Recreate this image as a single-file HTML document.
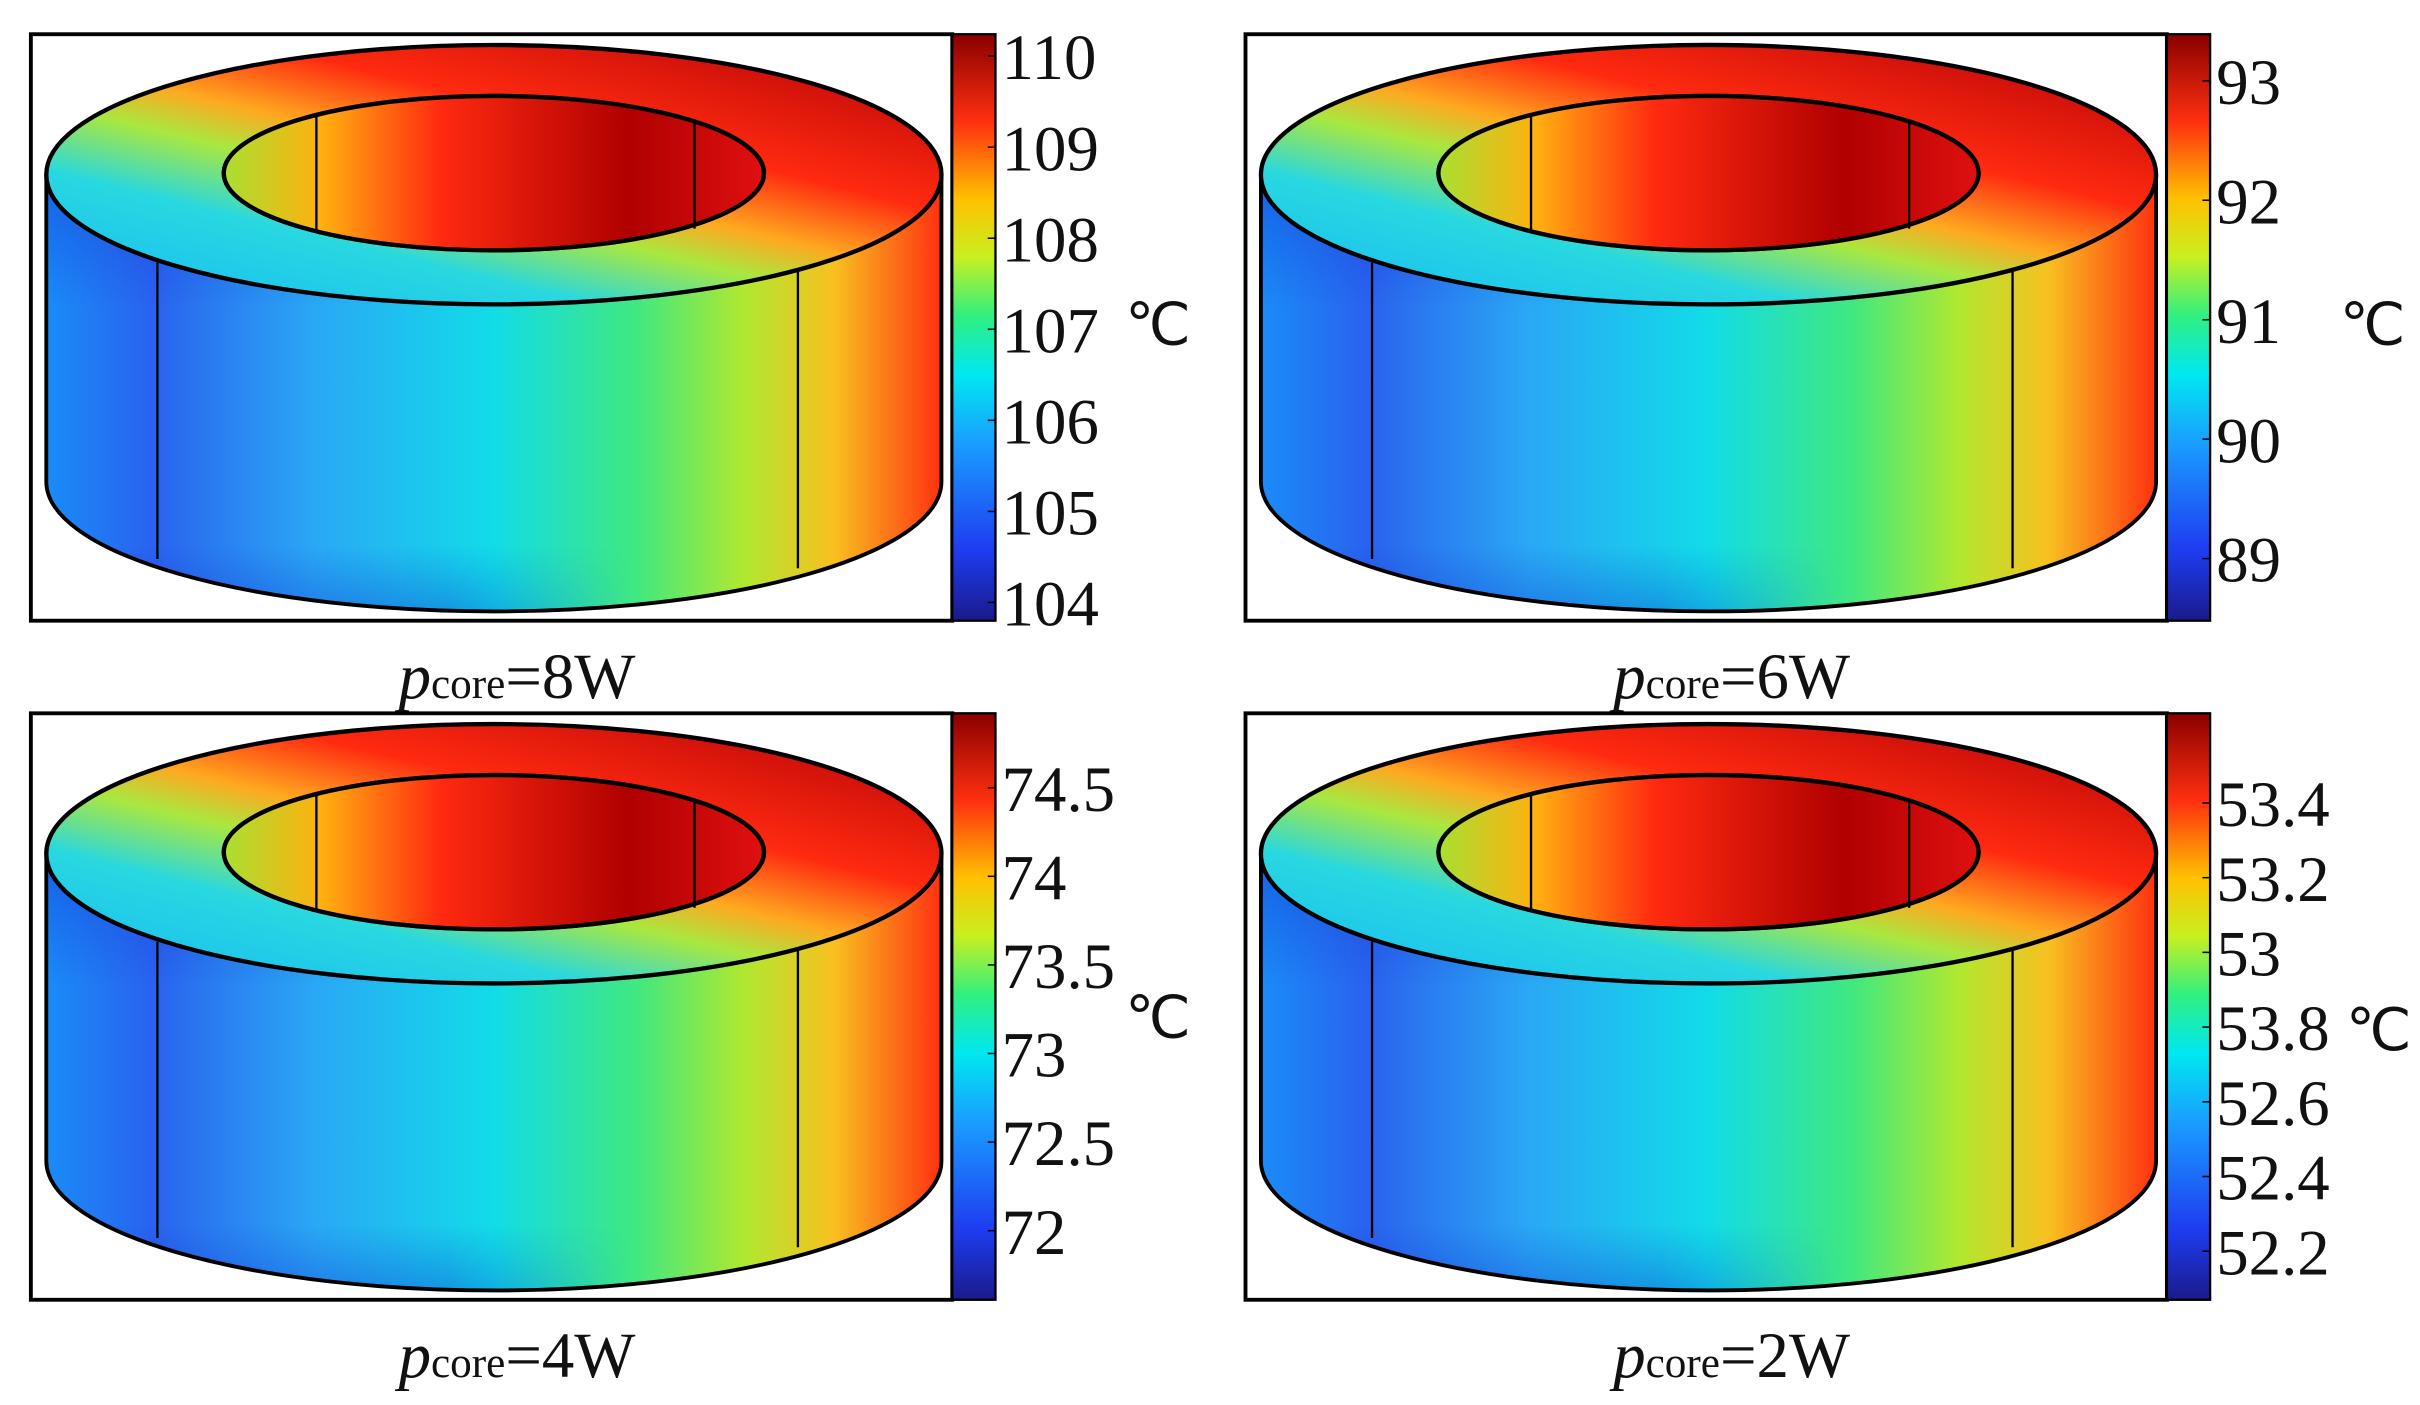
<!DOCTYPE html>
<html><head><meta charset="utf-8"><style>
html,body{margin:0;padding:0;background:#fff;}
svg{display:block;}
text{font-family:"Liberation Serif",serif;fill:#111;}
</style></head><body>
<svg id="fig" width="2420" height="1405" viewBox="0 0 1568 910" xmlns="http://www.w3.org/2000/svg">
<defs>
<linearGradient id="jet" x1="0" y1="1" x2="0" y2="0">
<stop offset="0" stop-color="#1a1a8c"/><stop offset="0.12" stop-color="#1e3cf0"/><stop offset="0.3" stop-color="#1a9cff"/><stop offset="0.42" stop-color="#00e8f0"/><stop offset="0.52" stop-color="#30f080"/><stop offset="0.62" stop-color="#c8f020"/><stop offset="0.72" stop-color="#ffc000"/><stop offset="0.85" stop-color="#ff3010"/><stop offset="1" stop-color="#8a0000"/>
</linearGradient>
<linearGradient id="side" x1="0" y1="0" x2="1" y2="0">
<stop offset="0" stop-color="#1a8cf8"/><stop offset="0.12" stop-color="#2a62ee"/><stop offset="0.3" stop-color="#2aa8f5"/><stop offset="0.5" stop-color="#12dce8"/><stop offset="0.66" stop-color="#40e880"/><stop offset="0.78" stop-color="#b0e830"/><stop offset="0.88" stop-color="#f8c020"/><stop offset="1" stop-color="#ff3010"/>
</linearGradient>
<linearGradient id="shadeMask" x1="0" y1="0" x2="1" y2="0">
<stop offset="0" stop-color="#fff"/><stop offset="0.45" stop-color="#fff"/><stop offset="0.65" stop-color="#000"/><stop offset="1" stop-color="#000"/>
</linearGradient>
<mask id="leftMask" maskContentUnits="objectBoundingBox"><rect x="0" y="0" width="1" height="1" fill="url(#shadeMask)"/></mask>
<linearGradient id="sideShade" x1="0" y1="0" x2="0" y2="1">
<stop offset="0" stop-color="#1030d0" stop-opacity="0.45"/><stop offset="0.3" stop-color="#1030d0" stop-opacity="0"/><stop offset="0.85" stop-color="#1030d0" stop-opacity="0"/><stop offset="1" stop-color="#1030d0" stop-opacity="0.35"/>
</linearGradient>
<linearGradient id="top" x1="0" y1="1" x2="0.85" y2="0">
<stop offset="0" stop-color="#18b8f5"/><stop offset="0.3" stop-color="#28d8e0"/><stop offset="0.45" stop-color="#a8e840"/><stop offset="0.55" stop-color="#ffa820"/><stop offset="0.7" stop-color="#ff2a10"/><stop offset="1" stop-color="#c00808"/>
</linearGradient>
<linearGradient id="hole" x1="0" y1="0" x2="1" y2="0">
<stop offset="0" stop-color="#a8e030"/><stop offset="0.18" stop-color="#ffb010"/><stop offset="0.4" stop-color="#ff2a10"/><stop offset="0.75" stop-color="#b00000"/><stop offset="1" stop-color="#e01010"/>
</linearGradient>
</defs>
</svg>
<script>
const panelTitles = ["8W","6W","4W","2W"];
const tickValues = [[104,105,106,107,108,109,110],[89,90,91,92,93],[72,72.5,73,73.5,74,74.5],[52.2,52.4,52.6,52.8,53.0,53.2,53.4]];
const tickLabels = [["104","105","106","107","108","109","110"],["89","90","91","92","93"],["72","72.5","73","73.5","74","74.5"],["52.2","52.4","52.6","53.8","53","53.2","53.4"]];
const scaleMin = [103.8,88.48,71.61,52.07];
const scaleMax = [110.24,93.39,74.92,53.64];
const unitTick = [3,2,3,3];

const svg = document.getElementById('fig');
const NS = "http://www.w3.org/2000/svg";
function mk(tag, attrs, parent){const e=document.createElementNS(NS,tag);for(const k in attrs)e.setAttribute(k,attrs[k]);(parent||svg).appendChild(e);return e;}
const origins = [[20,22],[807,22],[20,462],[807,462]];
const BW=597, BH=380, CBW=28;
for(let i=0;i<4;i++){
  const [x0,y0]=origins[i];
  const g=mk('g',{});
  
  
  const box=mk('rect',{x:x0,y:y0,width:BW,height:BH,fill:'#fff',stroke:'#000','stroke-width':2.5},g);
  
  
  const cx=x0+300, cy=y0+91, rx=290, ry=84, cy2=y0+290;
  const L=cx-rx, R=cx+rx;
  const sidePath=`M${L},${cy} A${rx},${ry} 0 0 0 ${R},${cy} L${R},${cy2} A${rx},${ry} 0 0 1 ${L},${cy2} Z`;
  const side=mk('path',{d:sidePath,fill:'url(#side)'},g);
  
  
  const shade=mk('path',{d:sidePath,fill:'url(#sideShade)',mask:'url(#leftMask)'},g);
  
  
  const outline=mk('path',{d:sidePath,fill:'none',stroke:'#000','stroke-width':2.5},g);
  
  
  const irx=175, iry=50, icy=cy-1;
  const ring=mk('path',{d:`M${L},${cy} A${rx},${ry} 0 1 0 ${R},${cy} A${rx},${ry} 0 1 0 ${L},${cy} Z M${cx-irx},${icy} A${irx},${iry} 0 1 0 ${cx+irx},${icy} A${irx},${iry} 0 1 0 ${cx-irx},${icy} Z`,fill:'url(#top)','fill-rule':'evenodd',stroke:'#000','stroke-width':2.8},g);
  
  
  const hole=mk('ellipse',{cx:cx,cy:icy,rx:irx,ry:iry,fill:'url(#hole)',stroke:'#000','stroke-width':2.8},g);
  
  
  [[cx-115,y0+51,y0+128],[cx+130,y0+55,y0+126],[x0+82,y0+148,y0+340],[x0+497,y0+152,y0+346]].forEach(l=>{
    const ln=mk('line',{x1:l[0],y1:l[1],x2:l[0],y2:l[2],stroke:'#000','stroke-width':1.5},g);
    
    
  });
  const cbx=x0+BW;
  const cb=mk('rect',{x:cbx,y:y0,width:CBW,height:BH,fill:'url(#jet)',stroke:'#000','stroke-width':1.5},g);
  
  
  const yv=v=>y0+BH-(v-scaleMin[i])/(scaleMax[i]-scaleMin[i])*BH;
  tickValues[i].forEach((v,j)=>{
    const y=yv(v);
    const tk=mk('line',{x1:cbx+CBW-5,y1:y,x2:cbx+CBW,y2:y,stroke:'#000','stroke-width':1},g);
    
    
    const t=mk('text',{x:cbx+CBW+4,y:y+15,'font-size':42},g);
    t.textContent=tickLabels[i][j];
    
    
    if(i===3 && j===unitTick[i]){
      const u=mk('text',{x:cbx+CBW+88,y:y+15,'font-size':38},g);
      u.textContent='℃';
      
      
    }
  });
  if(i!==3){
    const u=mk('text',{x:cbx+CBW+84,y:(i===2?y0+195:y0+186)+15,'font-size':38},g);
    u.textContent='℃';
    
    
  }
  const cap=mk('text',{x:x0+315,y:y0+BH+50,'font-size':42,'text-anchor':'middle'},g);
  
  
  const p=mk('tspan',{'font-style':'italic'},cap); p.textContent='p';
  const s=mk('tspan',{'font-size':28},cap); s.textContent='core';
  const r=mk('tspan',{},cap); r.textContent='='+panelTitles[i];
}
</script>
</body></html>
